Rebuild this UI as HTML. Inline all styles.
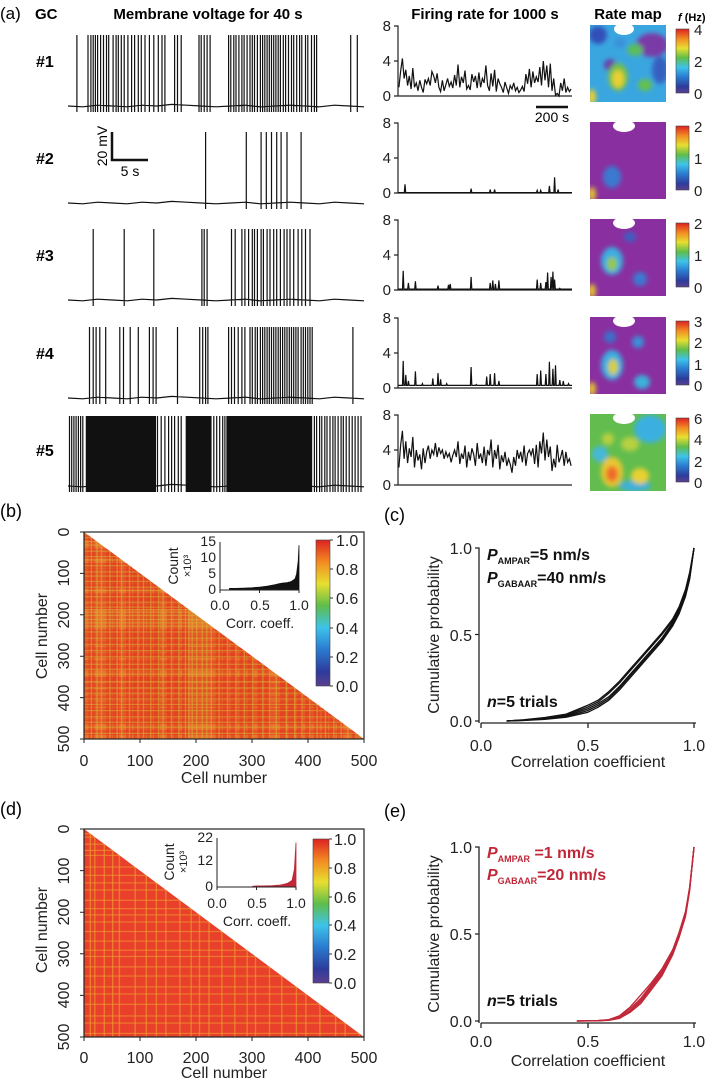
<!DOCTYPE html>
<html><head><meta charset="utf-8"><style>
html,body{margin:0;padding:0;background:#fff;}
svg{display:block;font-family:"Liberation Sans",Arial,sans-serif;}
.b{font-weight:bold;}
.t{font-size:14px;fill:#222;}
</style></head><body>
<svg id="fig" width="709" height="1081" viewBox="0 0 709 1081" xmlns="http://www.w3.org/2000/svg">
<defs>
<linearGradient id="jet" x1="0" y1="1" x2="0" y2="0">
<stop offset="0" stop-color="#5a3f8f"/><stop offset="0.1" stop-color="#2d3c9c"/><stop offset="0.25" stop-color="#2a7bd0"/><stop offset="0.4" stop-color="#3ec3ea"/><stop offset="0.55" stop-color="#5fbd4a"/><stop offset="0.7" stop-color="#e7df30"/><stop offset="0.85" stop-color="#f28a22"/><stop offset="1" stop-color="#dd2222"/>
</linearGradient>
<filter id="blur" x="-20%" y="-20%" width="140%" height="140%"><feGaussianBlur stdDeviation="2.5"/></filter>
<clipPath id="mapclip"><rect x="0" y="0" width="76" height="77"/></clipPath>
<clipPath id="triB"><polygon points="84,532 84,739 364,739"/></clipPath>
<clipPath id="triD"><polygon points="84,829 84,1037 364,1037"/></clipPath>
</defs>

<!-- Panel a headers -->
<text x="0" y="19" font-size="17">(a)</text>
<text x="35" y="19" font-size="15" class="b">GC</text>
<text x="208" y="19" font-size="15" class="b" text-anchor="middle">Membrane voltage for 40 s</text>
<text x="485" y="19" font-size="15" class="b" text-anchor="middle">Firing rate for 1000 s</text>
<text x="628" y="19" font-size="15" class="b" text-anchor="middle">Rate map</text>
<text x="678" y="21" font-size="11" class="b"><tspan font-style="italic">f</tspan> (Hz)</text>

<g id="rowsLabels" font-size="16" class="b">
<text x="36" y="67">#1</text>
<text x="36" y="164">#2</text>
<text x="36" y="261">#3</text>
<text x="36" y="359">#4</text>
<text x="36" y="456">#5</text>
</g>

<!-- FR tick labels -->
<g class="t" text-anchor="end" style="font-size:15px">
<text x="391" y="31">8</text><text x="391" y="66">4</text><text x="391" y="101">0</text>
<text x="391" y="128">8</text><text x="391" y="163">4</text><text x="391" y="198">0</text>
<text x="391" y="225">8</text><text x="391" y="260">4</text><text x="391" y="295">0</text>
<text x="391" y="323">8</text><text x="391" y="358">4</text><text x="391" y="393">0</text>
<text x="391" y="420">8</text><text x="391" y="455">4</text><text x="391" y="490">0</text>
</g>

<!-- scale bars -->
<g>
<path d="M112,132 V160 H148" fill="none" stroke="#111" stroke-width="2.5"/>
<text transform="translate(107,146) rotate(-90)" font-size="14" text-anchor="middle">20 mV</text>
<text x="130" y="176" font-size="14" text-anchor="middle">5 s</text>
</g>
<g>
<line x1="536" y1="107" x2="568" y2="107" stroke="#111" stroke-width="2.5"/>
<text x="552" y="122" font-size="14" text-anchor="middle">200 s</text>
</g>

<!-- colorbar labels -->
<g class="t" style="font-size:15px">
<text x="694" y="35">4</text><text x="694" y="67">2</text><text x="694" y="99">0</text>
<text x="694" y="132">2</text><text x="694" y="164">1</text><text x="694" y="196">0</text>
<text x="694" y="229">2</text><text x="694" y="261">1</text><text x="694" y="293">0</text>
<text x="694" y="327">3</text><text x="694" y="348">2</text><text x="694" y="370">1</text><text x="694" y="391">0</text>
<text x="694" y="424">6</text><text x="694" y="445">4</text><text x="694" y="467">2</text><text x="694" y="488">0</text>
</g>

<!-- Rate maps -->
<g transform="translate(590,25)"><g clip-path="url(#mapclip)">
<rect width="76" height="77" fill="#3aa6e0"/>
<g filter="url(#blur)">
<ellipse cx="62" cy="20" rx="16" ry="12" fill="#7a3aa6"/><ellipse cx="70" cy="45" rx="8" ry="14" fill="#3560c0"/>
<ellipse cx="8" cy="10" rx="9" ry="9" fill="#3050b8"/><ellipse cx="20" cy="40" rx="6" ry="6" fill="#6a3ca6"/>
<ellipse cx="45" cy="25" rx="8" ry="6" fill="#5cbe5a"/><ellipse cx="28" cy="52" rx="10" ry="14" fill="#72c04a"/>
<ellipse cx="28" cy="54" rx="6" ry="9" fill="#e8d030"/><ellipse cx="55" cy="60" rx="7" ry="6" fill="#66c04c"/>
<ellipse cx="2" cy="72" rx="4" ry="8" fill="#e8d030"/><ellipse cx="30" cy="18" rx="6" ry="5" fill="#3a90d8"/>
</g>
<ellipse cx="34" cy="4" rx="10" ry="6" fill="#fff"/></g></g>

<g transform="translate(590,122)"><g clip-path="url(#mapclip)">
<rect width="76" height="77" fill="#8a2fa0"/>
<g filter="url(#blur)"><ellipse cx="22" cy="55" rx="9" ry="11" fill="#3a7ad0"/><ellipse cx="2" cy="72" rx="4" ry="7" fill="#e0c030"/></g>
<ellipse cx="34" cy="4" rx="11" ry="6" fill="#fff"/></g></g>

<g transform="translate(590,219)"><g clip-path="url(#mapclip)">
<rect width="76" height="77" fill="#8a2fa0"/>
<g filter="url(#blur)"><ellipse cx="22" cy="42" rx="11" ry="14" fill="#3aaee0"/><ellipse cx="22" cy="45" rx="5" ry="7" fill="#9ac840"/>
<ellipse cx="50" cy="60" rx="7" ry="7" fill="#3a7ad0"/><ellipse cx="40" cy="18" rx="6" ry="5" fill="#3a60c0"/><ellipse cx="2" cy="72" rx="4" ry="7" fill="#e0c030"/></g>
<ellipse cx="34" cy="4" rx="11" ry="6" fill="#fff"/></g></g>

<g transform="translate(590,317)"><g clip-path="url(#mapclip)">
<rect width="76" height="77" fill="#8a2fa0"/>
<g filter="url(#blur)"><ellipse cx="22" cy="48" rx="11" ry="15" fill="#3aaee0"/><ellipse cx="23" cy="50" rx="5" ry="8" fill="#d8d030"/>
<ellipse cx="52" cy="65" rx="8" ry="7" fill="#3ab0d8"/><ellipse cx="20" cy="20" rx="6" ry="6" fill="#3a70c8"/><ellipse cx="48" cy="25" rx="6" ry="6" fill="#3a90d8"/><ellipse cx="2" cy="72" rx="4" ry="7" fill="#e0c030"/></g>
<ellipse cx="34" cy="4" rx="11" ry="6" fill="#fff"/></g></g>

<g transform="translate(590,414)"><g clip-path="url(#mapclip)">
<rect width="76" height="77" fill="#62bd4e"/>
<g filter="url(#blur)"><ellipse cx="60" cy="15" rx="16" ry="14" fill="#3ab0e0"/><ellipse cx="10" cy="40" rx="8" ry="8" fill="#45b8d8"/><ellipse cx="45" cy="72" rx="16" ry="6" fill="#40b0d8"/>
<ellipse cx="22" cy="58" rx="11" ry="15" fill="#e8c830"/><ellipse cx="22" cy="60" rx="6" ry="8" fill="#ee6a2a"/>
<ellipse cx="50" cy="62" rx="9" ry="8" fill="#e8d030"/><ellipse cx="40" cy="30" rx="9" ry="7" fill="#b8d040"/><ellipse cx="18" cy="25" rx="6" ry="6" fill="#b8d040"/></g>
<ellipse cx="34" cy="4" rx="11" ry="6" fill="#fff"/></g></g>

<!-- Panel labels -->
<text x="0" y="517" font-size="18">(b)</text>
<text x="0" y="815" font-size="18">(d)</text>
<text x="384" y="521" font-size="18">(c)</text>
<text x="384" y="817" font-size="18">(e)</text>

<g class="t" style="font-size:16px" text-anchor="middle">
<text x="84" y="766">0</text><text x="140" y="766">100</text><text x="196" y="766">200</text><text x="252" y="766">300</text><text x="308" y="766">400</text><text x="364" y="766">500</text>
<text x="224" y="783">Cell number</text>
<text transform="translate(69,532) rotate(-90)">0</text><text transform="translate(69,573) rotate(-90)">100</text><text transform="translate(69,615) rotate(-90)">200</text><text transform="translate(69,656) rotate(-90)">300</text><text transform="translate(69,698) rotate(-90)">400</text><text transform="translate(69,739) rotate(-90)">500</text>
<text transform="translate(47,636) rotate(-90)">Cell number</text>

<text x="84" y="1063">0</text><text x="140" y="1063">100</text><text x="196" y="1063">200</text><text x="252" y="1063">300</text><text x="308" y="1063">400</text><text x="364" y="1063">500</text>
<text x="224" y="1078">Cell number</text>
<text transform="translate(69,829) rotate(-90)">0</text><text transform="translate(69,871) rotate(-90)">100</text><text transform="translate(69,912) rotate(-90)">200</text><text transform="translate(69,954) rotate(-90)">300</text><text transform="translate(69,995) rotate(-90)">400</text><text transform="translate(69,1037) rotate(-90)">500</text>
<text transform="translate(47,930) rotate(-90)">Cell number</text>
</g>

<!-- inset texts -->
<g class="t">
<text x="216" y="546" text-anchor="end">15</text><text x="216" y="562" text-anchor="end">10</text><text x="216" y="578" text-anchor="end">5</text><text x="216" y="594" text-anchor="end">0</text>
<text x="220" y="610" text-anchor="middle">0.0</text><text x="260" y="610" text-anchor="middle">0.5</text><text x="299" y="610" text-anchor="middle">1.0</text>
<text x="260" y="628" text-anchor="middle">Corr. coeff.</text>
<text transform="translate(178,566) rotate(-90)" text-anchor="middle">Count</text>
<text transform="translate(191,566) rotate(-90)" text-anchor="middle" font-size="11">×10³</text>

<text x="213" y="842" text-anchor="end">22</text><text x="213" y="865" text-anchor="end">12</text><text x="213" y="891" text-anchor="end">0</text>
<text x="217" y="908" text-anchor="middle">0.0</text><text x="257" y="908" text-anchor="middle">0.5</text><text x="296" y="908" text-anchor="middle">1.0</text>
<text x="257" y="926" text-anchor="middle">Corr. coeff.</text>
<text transform="translate(174,862) rotate(-90)" text-anchor="middle">Count</text>
<text transform="translate(187,862) rotate(-90)" text-anchor="middle" font-size="11">×10³</text>
</g>

<!-- colorbars b/d -->
<rect x="316" y="540" width="14" height="146" fill="url(#jet)" stroke="#444" stroke-width="0.6"/>
<rect x="313" y="839" width="16" height="144" fill="url(#jet)" stroke="#444" stroke-width="0.6"/>
<g class="t" style="font-size:16px">
<text x="336" y="546">1.0</text><text x="336" y="575">0.8</text><text x="336" y="604">0.6</text><text x="336" y="634">0.4</text><text x="336" y="663">0.2</text><text x="336" y="692">0.0</text>
<text x="334" y="845">1.0</text><text x="334" y="874">0.8</text><text x="334" y="903">0.6</text><text x="334" y="931">0.4</text><text x="334" y="960">0.2</text><text x="334" y="989">0.0</text>
</g>
<g stroke="#333" stroke-width="1">
<path d="M330,540h3M330,569h3M330,598h3M330,628h3M330,657h3M330,686h3"/>
<path d="M329,839h3M329,868h3M329,897h3M329,925h3M329,954h3M329,983h3"/>
</g>

<!-- panels c/e text -->
<g class="t" style="font-size:16px">
<text x="472" y="554" text-anchor="end">1.0</text><text x="472" y="641" text-anchor="end">0.5</text><text x="472" y="727" text-anchor="end">0.0</text>
<text x="481" y="751" text-anchor="middle">0.0</text><text x="588" y="751" text-anchor="middle">0.5</text><text x="694" y="751" text-anchor="middle">1.0</text>
<text x="588" y="767" text-anchor="middle">Correlation coefficient</text>
<text transform="translate(439,635) rotate(-90)" text-anchor="middle">Cumulative probability</text>

<text x="472" y="853" text-anchor="end">1.0</text><text x="472" y="940" text-anchor="end">0.5</text><text x="472" y="1027" text-anchor="end">0.0</text>
<text x="481" y="1047" text-anchor="middle">0.0</text><text x="588" y="1047" text-anchor="middle">0.5</text><text x="694" y="1047" text-anchor="middle">1.0</text>
<text x="588" y="1066" text-anchor="middle">Correlation coefficient</text>
<text transform="translate(439,934) rotate(-90)" text-anchor="middle">Cumulative probability</text>
</g>
<g font-size="16" class="b" fill="#111">
<text x="487" y="560"><tspan font-style="italic">P</tspan><tspan font-size="9" dy="4">AMPAR</tspan><tspan dy="-4">=5 nm/s</tspan></text>
<text x="487" y="583"><tspan font-style="italic">P</tspan><tspan font-size="9" dy="4">GABAAR</tspan><tspan dy="-4">=40 nm/s</tspan></text>
<text x="487" y="707"><tspan font-style="italic">n</tspan>=5 trials</text>
</g>
<g font-size="16" class="b" fill="#c0283a">
<text x="487" y="858"><tspan font-style="italic">P</tspan><tspan font-size="9" dy="4">AMPAR</tspan><tspan dy="-4"> =1 nm/s</tspan></text>
<text x="487" y="880"><tspan font-style="italic">P</tspan><tspan font-size="9" dy="4">GABAAR</tspan><tspan dy="-4">=20 nm/s</tspan></text>
</g>
<text x="487" y="1006" font-size="16" class="b" fill="#111"><tspan font-style="italic">n</tspan>=5 trials</text>

<g id="dyn"></g>
</svg>

<script>
// ---------- data ----------
const spikeTimes1 = [1.2,2.7,3.1,3.4,3.7,4.0,4.4,4.8,5.2,5.5,6.1,6.5,6.8,7.2,7.6,8.1,8.6,9.0,9.5,9.9,10.4,11.0,11.6,12.2,12.7,13.1,14.4,14.8,15.3,17.7,18.0,18.4,18.8,19.2,21.7,22.0,22.4,22.7,23.1,23.5,23.8,24.2,24.6,24.9,25.2,25.6,26.0,26.3,26.6,26.9,27.2,27.5,27.8,28.1,28.4,28.7,29.1,29.4,29.8,30.2,30.5,30.9,31.3,31.6,32.1,32.4,32.9,33.3,33.6,38.2,39.1];
const spikeTimes2 = [18.6,24.1,26.1,26.8,27.5,28.2,28.8,29.6,31.5];
const spikeTimes3 = [3.4,7.6,11.6,18.1,18.4,18.8,22.1,22.6,23.5,23.9,24.4,24.9,25.2,25.6,26.1,26.4,26.9,27.3,27.8,28.2,28.7,29.2,29.6,30.0,30.5,31.1,31.6,32.1,32.7];
const spikeTimes4 = [2.9,3.4,3.8,4.3,5.1,7.0,7.5,8.4,9.5,11.0,11.5,11.9,14.8,17.8,18.2,18.6,18.9,21.7,22.1,22.5,23.0,23.5,23.9,24.6,24.9,25.3,25.6,26.0,26.3,26.6,26.9,27.2,27.5,27.8,28.1,28.4,28.7,29.0,29.3,29.6,29.9,30.2,30.5,30.8,31.1,31.5,31.8,32.1,32.4,32.7,33.0,38.5];
const spikeTimes5 = [0.2,0.5,0.8,1.1,1.4,1.7,2.0,12.1,12.6,13.1,13.6,14.0,14.4,14.9,15.3,19.7,20.1,20.5,20.9,21.2,33.3,33.6,34.0,34.3,34.7,35.0,35.4,35.8,36.1,36.5,36.9,37.2,37.6,38.0,38.4,38.8,39.2,39.6];
const burstStart5 = [2.4,15.9,21.4];
const burstEnd5 = [11.9,19.4,33.0];
// small baseline fluctuation values (mV-ish offsets) sampled every 2 s
const baseWiggle = [0,1,-1,0,1,-1,0,-2,-1,0,1,0,-1,1,0,-1,0,1,-1,0,1];

const rate1 = [1.0,2.8,4.3,2.0,3.0,1.2,2.3,0.8,3.2,1.0,1.5,0.6,1.8,1.0,0.4,1.9,1.4,2.0,1.2,2.8,2.3,1.5,2.6,1.0,0.5,1.8,0.6,1.3,2.0,1.1,1.6,0.9,2.4,1.2,3.6,1.0,2.2,1.5,2.9,0.8,1.2,0.7,2.5,1.6,2.3,0.9,2.7,1.0,2.0,1.5,3.5,1.2,0.6,2.6,1.1,3.0,0.5,2.0,1.4,1.0,0.4,1.6,0.9,0.3,1.2,0.8,1.5,0.6,1.0,0.4,0.7,1.1,0.5,2.5,1.4,3.1,1.0,2.8,1.5,2.2,1.6,3.3,1.2,4.0,1.8,3.5,1.0,3.7,0.6,2.0,0.1,0.3,0.0,1.5,0.6,2.0,0.4,1.0,0.5,0.8];
const rate5 = [2.0,4.5,6.2,3.0,5.0,2.5,4.2,3.2,5.5,2.0,4.0,2.8,3.5,1.8,4.2,2.5,3.8,4.5,3.0,4.0,3.5,4.8,3.2,4.3,3.6,4.0,3.0,3.8,3.2,3.6,2.6,3.4,4.0,3.2,5.0,2.4,3.6,3.0,4.5,2.0,3.8,2.8,4.2,3.5,2.2,4.8,3.0,3.6,2.5,4.4,2.2,4.0,3.4,5.2,2.0,4.0,3.0,4.6,1.8,3.4,2.6,3.8,2.2,3.0,2.4,1.4,3.2,2.2,4.0,3.0,3.8,2.6,4.5,2.2,3.6,4.0,3.4,4.2,2.4,4.6,2.0,5.0,3.6,6.0,2.8,5.2,3.2,4.4,1.6,3.0,2.0,4.6,2.6,3.2,4.0,2.2,3.8,2.6,3.0,2.2];
const peakT2 = [40,420,530,555,800,820,870,900,920];
const peakV2 = [1.0,0.5,0.4,0.4,0.3,0.3,0.8,1.8,0.4];
const peakT3 = [30,60,100,230,290,300,420,530,545,560,580,800,820,850,860,880,890,900,930];
const peakV3 = [2.2,0.8,1.0,0.5,0.6,0.7,1.5,0.8,1.1,0.7,1.1,1.2,0.8,0.9,2.0,1.5,2.1,1.2,0.2];
const peakT4 = [30,45,60,100,140,200,230,245,280,420,450,510,530,555,580,680,800,820,850,870,890,905,930,950,980];
const peakV4 = [3.1,1.5,0.8,1.9,0.5,1.1,1.7,1.0,0.5,2.4,0.4,1.3,1.6,1.7,0.8,0.3,1.6,2.0,1.6,3.0,2.2,2.6,0.9,0.8,0.5];
const base4 = 0.3;

const cdfX = [0.12,0.2,0.3,0.4,0.5,0.55,0.6,0.65,0.7,0.75,0.8,0.85,0.9,0.93,0.96,0.98,1.0];
const cdfC1 = [0,0.005,0.015,0.03,0.07,0.1,0.14,0.2,0.27,0.34,0.41,0.48,0.57,0.64,0.74,0.84,1.0];
const cdfC2 = [0,0.004,0.012,0.025,0.06,0.09,0.13,0.19,0.26,0.33,0.40,0.47,0.56,0.63,0.73,0.83,1.0];
const cdfC3 = [0,0.006,0.018,0.035,0.08,0.11,0.16,0.22,0.29,0.36,0.43,0.50,0.58,0.65,0.75,0.85,1.0];
const cdfC4 = [0,0.003,0.01,0.022,0.05,0.08,0.12,0.18,0.25,0.32,0.39,0.46,0.55,0.62,0.72,0.82,1.0];
const cdfC5 = [0,0.007,0.02,0.04,0.09,0.12,0.17,0.23,0.30,0.37,0.44,0.51,0.59,0.66,0.76,0.86,1.0];
const cdfXe = [0.45,0.55,0.6,0.65,0.7,0.75,0.8,0.85,0.9,0.93,0.96,0.98,1.0];
const cdfE1 = [0,0.002,0.006,0.02,0.06,0.12,0.2,0.28,0.4,0.5,0.62,0.76,1.0];
const cdfE2 = [0,0.003,0.008,0.03,0.08,0.15,0.22,0.30,0.41,0.51,0.63,0.77,1.0];
const cdfE3 = [0,0.001,0.004,0.015,0.05,0.10,0.18,0.26,0.38,0.48,0.60,0.75,1.0];
const cdfE4 = [0,0.002,0.007,0.025,0.07,0.13,0.21,0.29,0.39,0.49,0.61,0.76,1.0];
const cdfE5 = [0,0.002,0.005,0.018,0.055,0.11,0.19,0.27,0.39,0.50,0.62,0.77,1.0];

const histXb = [0.12,0.2,0.3,0.4,0.5,0.6,0.7,0.75,0.8,0.85,0.9,0.95,0.97,0.99,1.0];
const histCb = [0.5,0.5,0.6,0.7,0.9,1.2,1.7,2.0,2.2,2.3,2.6,3.5,5,9,14];
const histXd = [0.45,0.5,0.6,0.7,0.8,0.85,0.9,0.95,0.98,1.0];
const histCd = [0.3,0.5,0.5,0.6,0.9,1.2,1.8,3,8,20];

const lowCellsB = [12,22,30,45,58,66,80,95,105,118,132,140,155,168,180,186,192,200,210,218,226,240,255,270,285,300,318,330,342,360,375,388,402,415,430,445,458,470,485];
const highCellsB = [8,40,52,75,88,100,112,125,148,160,175,235,248,262,278,292,310,322,350,365,380,395,410,425,438,452,478];
const lowCellsD = [10,18,35,50,62,90,110,128,145,170,190,205,222,245,268,290,305,330,352,378,395,420,448,465,490];

// ---------- helpers ----------
const NS = "http://www.w3.org/2000/svg";
const root = document.getElementById("dyn");
function mk(tag, attrs, parent) {
  const e = document.createElementNS(NS, tag);
  for (const k in attrs) e.setAttribute(k, attrs[k]);
  (parent || root).appendChild(e);
  return e;
}
const rowTop = [26,123,220,318,415];
const vX = t => 68 + t / 40 * 296;
const fX = t => 398 + t / 1000 * 174;

// voltage traces
const spikeSets = [spikeTimes1, spikeTimes2, spikeTimes3, spikeTimes4, spikeTimes5];
spikeSets.forEach((sp, i) => {
  const T = rowTop[i];
  const g = mk("g", {stroke:"#111", "stroke-width":"1", fill:"none"});
  
  
  const base = i === 4 ? T + 71 : T + 80;
  const top = i === 4 ? T + 1 : T + 9;
  let d = "";
  baseWiggle.forEach((w, k) => { d += (k ? "L" : "M") + vX(k * 2).toFixed(1) + "," + (base + w * 0.8).toFixed(1); });
  sp.forEach(t => { const x = vX(t).toFixed(1); d += " M" + x + "," + (base + 6) + " V" + top; });
  mk("path", {d: d, "stroke-width": "1.2"}, g);
  if (i === 4) {
    burstStart5.forEach((s, k) => {
      const r = mk("rect", {x: vX(s), y: top, width: vX(burstEnd5[k]) - vX(s), height: base + 6 - top, fill:"#111", stroke:"none"}, g);
      
      
    });
  }
});

// firing-rate axes and traces
function frAxes(i) {
  const T = rowTop[i];
  const g = mk("g", {stroke:"#222", "stroke-width":"1.2", fill:"none"});
  
  
  mk("path", {d: "M394," + T + "H398V" + (T + 70) + "H572M394," + (T + 35) + "H398M394," + (T + 70) + "H398"}, g);
}
function yR(i, v) { return rowTop[i] + 70 - v / 8 * 70; }
[0,1,2,3,4].forEach(frAxes);
[[0, rate1],[4, rate5]].forEach(([i, arr]) => {
  let d = "";
  arr.forEach((v, k) => { d += (k ? "L" : "M") + fX(k * 10 + 5).toFixed(1) + "," + yR(i, v).toFixed(1); });
  const p = mk("path", {d: d, stroke:"#111", "stroke-width":"1.2", fill:"none"});
  
  
});
[[1, peakT2, peakV2, 0.05],[2, peakT3, peakV3, 0.1],[3, peakT4, peakV4, base4]].forEach(([i, ts, vs, b]) => {
  let d = "M" + fX(0) + "," + yR(i, b);
  ts.forEach((t, k) => {
    d += "L" + fX(t - 4).toFixed(1) + "," + yR(i, b).toFixed(1) + "L" + fX(t).toFixed(1) + "," + yR(i, vs[k]).toFixed(1) + "L" + fX(t + 4).toFixed(1) + "," + yR(i, b).toFixed(1);
  });
  d += "L" + fX(1000) + "," + yR(i, b);
  const p = mk("path", {d: d, stroke:"#111", "stroke-width":"1.2", fill:"none"});
  
  
});

// rate map colorbars
rowTop.forEach((T, i) => {
  const r = mk("rect", {x:676, y:T + 3, width:13, height:64, fill:"url(#jet)", stroke:"#444", "stroke-width":"0.6"});
  
  
});

// heatmaps
function heatmap(X0, Y0, X1, Y1, clip, base, lows, highs, lowCol, highCol, lowOp, name) {
  const g = mk("g", {"clip-path": "url(#" + clip + ")"});
  
  
  mk("rect", {x:X0, y:Y0, width:X1 - X0, height:Y1 - Y0, fill:base}, g);
  const cx = c => X0 + c / 500 * (X1 - X0), cy = c => Y0 + c / 500 * (Y1 - Y0);
  highs.forEach(c => {
    mk("rect", {x:cx(c), y:Y0, width:6, height:Y1 - Y0, fill:highCol, opacity:0.5}, g);
    mk("rect", {x:X0, y:cy(c), width:X1 - X0, height:5, fill:highCol, opacity:0.5}, g);
  });
  lows.forEach(c => {
    mk("rect", {x:cx(c), y:Y0, width:1.4, height:Y1 - Y0, fill:lowCol, opacity:lowOp}, g);
    mk("rect", {x:X0, y:cy(c), width:X1 - X0, height:1.2, fill:lowCol, opacity:lowOp}, g);
  });
  const ax = mk("rect", {x:X0, y:Y0, width:X1 - X0, height:Y1 - Y0, fill:"none", stroke:"#222", "stroke-width":"1.2"});
  
  
  let d = "";
  [0,100,200,300,400,500].forEach(c => { d += "M" + cx(c) + "," + Y1 + "v4M" + X0 + "," + cy(c) + "h-4"; });
  mk("path", {d: d, stroke:"#222", "stroke-width":"1"});
}
heatmap(84, 532, 364, 739, "triB", "#e8742c", lowCellsB, highCellsB, "#d8b038", "#e2301e", 0.55, "correlation-heatmap-b");
heatmap(84, 829, 364, 1037, "triD", "#e8402a", lowCellsD, [], "#f0a030", "#e2381f", 0.6, "correlation-heatmap-d");

// insets
function inset(X0, X1, Y0, Y1, ymax, xs, cs, col, name) {
  const hx = v => X0 + v * (X1 - X0), hy = v => Y0 - v / ymax * (Y0 - Y1);
  let d = "M" + hx(xs[0]) + "," + Y0;
  xs.forEach((x, k) => { d += "L" + hx(x).toFixed(1) + "," + hy(cs[k]).toFixed(1); });
  d += "L" + hx(xs[xs.length - 1]) + "," + Y0 + "Z";
  const p = mk("path", {d: d, fill: col, stroke: col, "stroke-width":"0.8"});
  
  
  mk("path", {d: "M" + X0 + "," + Y1 + "V" + Y0 + "H" + X1 + "M" + X0 + "," + (Y0 + 3) + "v-3M" + hx(0.5) + "," + Y0 + "v3M" + X1 + "," + Y0 + "v3", stroke:"#222", fill:"none", "stroke-width":"1"});
}
inset(220, 299, 590, 542, 15, histXb, histCb, "#111", "histogram-b");
inset(217, 296, 887, 838, 22, histXd, histCd, "#c0283a", "histogram-d");

// CDF panels
function cdfPanel(Yb, Yt, xs, series, col, name) {
  const cx = v => 481 + v * 213, cy = v => Yb - v * (Yb - Yt);
  mk("path", {d: "M475," + Yt + "H479V" + (Yb + 2) + "M475," + ((Yb + Yt) / 2) + "H479M475," + Yb + "H479M481," + (Yb + 2) + "H696M481," + (Yb + 2) + "v5M588," + (Yb + 2) + "v5M694," + (Yb + 2) + "v5", stroke:"#222", fill:"none", "stroke-width":"1.3"});
  series.forEach((ys, s) => {
    let d = "";
    xs.forEach((x, k) => { d += (k ? "L" : "M") + cx(x).toFixed(1) + "," + cy(ys[k]).toFixed(1); });
    const p = mk("path", {d: d, stroke: col, fill:"none", "stroke-width":"1.3"});
    
    
  });
}
cdfPanel(721, 548, cdfX, [cdfC1, cdfC2, cdfC3, cdfC4, cdfC5], "#111", "cdf-c");
cdfPanel(1021, 847, cdfXe, [cdfE1, cdfE2, cdfE3, cdfE4, cdfE5], "#c0283a", "cdf-e");
</script>
</body></html>
